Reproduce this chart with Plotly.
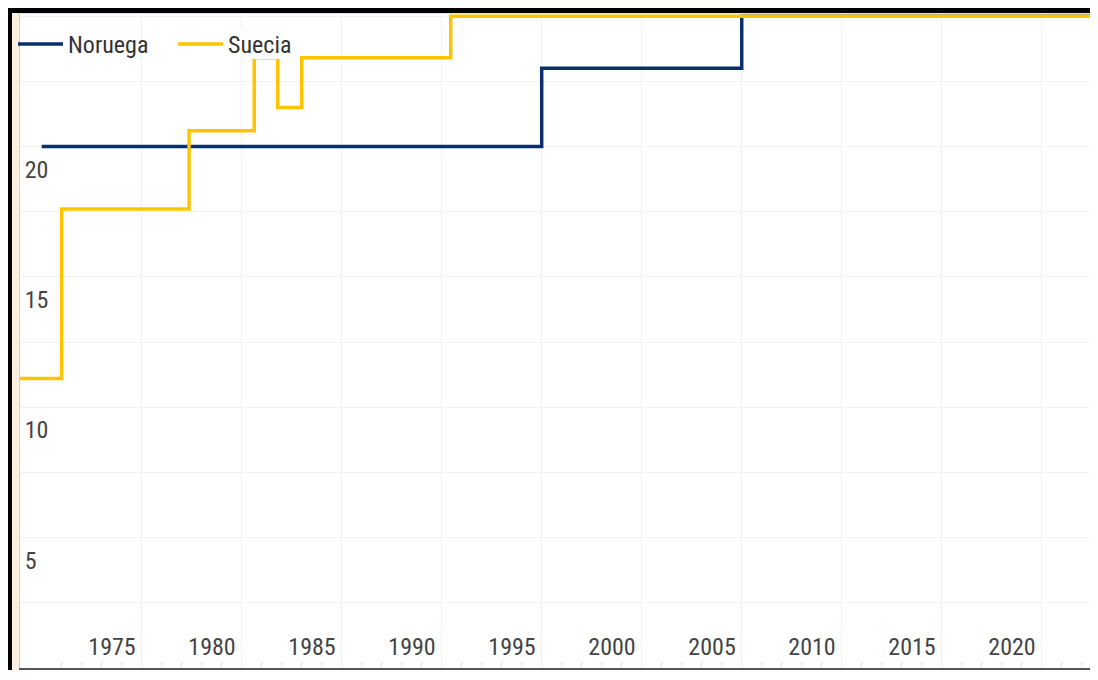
import plotly.graph_objects as go

# Datos (fecha de cada cambio y valor vigente desde esa fecha)
noruega_fechas = ["1970-01-01", "1995-01-01", "2005-01-01", "2023-06-30"]
noruega_valores = [20.0, 23.0, 25.0, 25.0]

suecia_fechas = ["1968-01-01", "1971-01-01", "1977-05-15", "1980-08-18",
                 "1981-10-20", "1983-01-01", "1990-06-15", "2023-06-30"]
suecia_valores = [11.1, 17.6, 20.6, 23.4, 21.5, 23.4, 25.0, 25.0]

y_ticks = [0, 5, 10, 15, 20]

colores = {
    "noruega": "#0b2f6b",
    "suecia": "#ffc400",
    "fondo": "#fdf0e1",
    "texto": "#555555",
    "rejilla": "#f2f2f2",
}

FUENTE = "Liberation Sans Narrow, Roboto Condensed, Arial Narrow, sans-serif"

# la página deja 8 px de margen alrededor de la figura
W, H = 1090, 662
ML, MR, MT, MB = 12, 0, 5, 2
PW, PH = W - ML - MR, H - MT - MB


def px_x(px):
    # pixel horizontal de la figura -> coordenada paper
    return (px - ML) / PW


def px_y(py):
    # pixel vertical de la figura -> coordenada paper
    return (H - MB - py) / PH


trazas = [
    go.Scatter(x=noruega_fechas, y=noruega_valores, mode="lines", name="Noruega",
               line=dict(color=colores["noruega"], width=3.5, shape="hv")),
    go.Scatter(x=suecia_fechas, y=suecia_valores, mode="lines", name="Suecia",
               line=dict(color=colores["suecia"], width=3.5, shape="hv")),
]

marco = [
    # borde negro arriba y a la izquierda
    dict(type="rect", xref="paper", yref="paper", x0=px_x(0), x1=px_x(W), y0=px_y(5), y1=px_y(0),
         fillcolor="black", line_width=0, layer="above"),
    dict(type="rect", xref="paper", yref="paper", x0=px_x(0), x1=px_x(4), y0=px_y(H), y1=px_y(0),
         fillcolor="black", line_width=0, layer="above"),
    # línea superior azul clara del área de trazado
    dict(type="line", xref="paper", yref="paper", x0=0, x1=1, y0=1, y1=1,
         line=dict(color="#b7c9e6", width=1), layer="below"),
    # fondo blanco tras el texto "Suecia" de la leyenda
    dict(type="rect", xref="paper", yref="paper", x0=px_x(218), x1=px_x(288), y0=px_y(51), y1=px_y(20),
         fillcolor="white", line_width=0, layer="above"),
]

layout = go.Layout(
    width=W, height=H,
    margin=dict(l=ML, r=MR, t=MT, b=MB, pad=0),
    paper_bgcolor=colores["fondo"],
    plot_bgcolor="white",
    font=dict(family=FUENTE, size=24, color=colores["texto"]),
    showlegend=True,
    legend=dict(orientation="h", x=-7 / PW, y=1 - 9 / PH, xanchor="left", yanchor="top",
                bgcolor="rgba(0,0,0,0)", itemwidth=45, entrywidth=100,
                font=dict(size=24, color="#333333")),
    xaxis=dict(
        type="date",
        range=["1968-12-01", "2022-10-25"],
        tick0="1970-01-01", dtick="M60", tickformat="%Y",
        ticklabelposition="inside left", ticks="",
        ticklabelstandoff=7, ticklabelshift=-5,
        showgrid=True, gridcolor=colores["rejilla"], gridwidth=1,
        showline=True, linecolor="#555555", linewidth=2,
        zeroline=False,
        minor=dict(dtick="M12", ticks="inside", ticklen=6, tickcolor="#e2e2e2", showgrid=False),
    ),
    yaxis=dict(
        range=[0, 25.12],
        tickmode="array", tickvals=y_ticks,
        ticklabelposition="inside bottom", ticks="",
        ticklabelstandoff=6, ticklabelshift=6,
        showgrid=True, gridcolor=colores["rejilla"], gridwidth=1,
        showline=True, linecolor="#cfcfcf", linewidth=1,
        zeroline=False,
        minor=dict(tick0=0, dtick=2.5, showgrid=True, gridcolor=colores["rejilla"]),
    ),
    shapes=marco,
)

fig = go.Figure(data=trazas, layout=layout)
fig.write_html("out.html")
